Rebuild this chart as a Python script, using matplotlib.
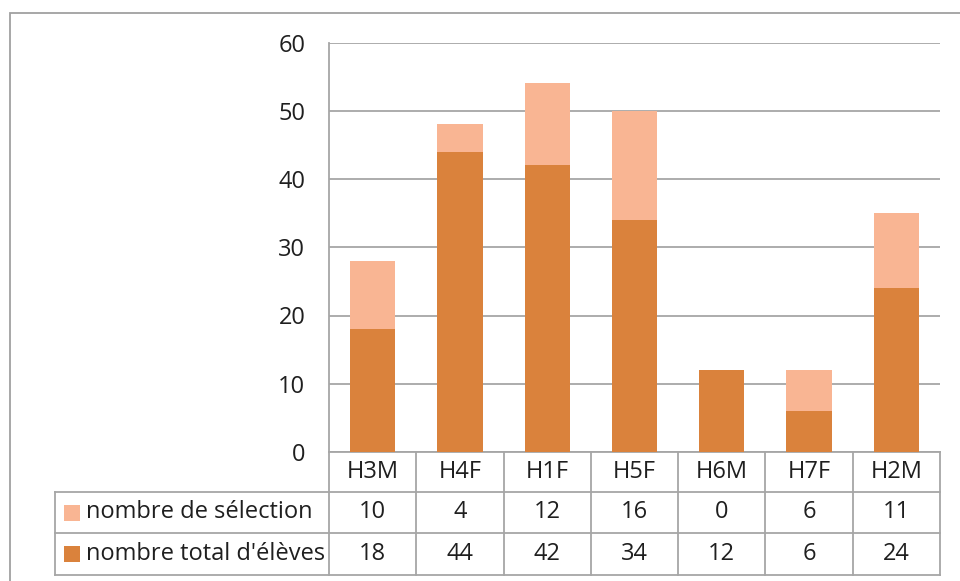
import matplotlib

matplotlib.use("Agg")
import matplotlib.pyplot as plt
from matplotlib.patches import Rectangle
from matplotlib.transforms import blended_transform_factory

categories = ["H3M", "H4F", "H1F", "H5F", "H6M", "H7F", "H2M"]
selection = [10, 4, 12, 16, 0, 6, 11]
total = [18, 44, 42, 34, 12, 6, 24]
series_names = ["nombre de sélection", "nombre total d'élèves"]

C_TOTAL = "#DA823C"
C_SEL = "#F9B593"
GRID = "#A6A6A6"
TXT = "#1F1F1F"
FS = 17

plt.rcParams["font.family"] = ["Open Sans", "DejaVu Sans"]

W, H = 960, 581
fig = plt.figure(figsize=(W / 100, H / 100), dpi=100)

# outer chart frame (cut off at right / bottom like the reference)
fig.patches.append(Rectangle((9.5 / W, -0.05), 1.2, 1 - 12.7 / H + 0.05,
                             transform=fig.transFigure, fill=False,
                             edgecolor="#A0A0A0", linewidth=1.3))

left, right, top, bottom = 329, 940, 42.5, 452
ax = fig.add_axes([left / W, 1 - bottom / H, (right - left) / W, (bottom - top) / H])

x = range(len(categories))
ax.bar(x, total, width=0.52, color=C_TOTAL, zorder=3)
ax.bar(x, selection, width=0.52, bottom=total, color=C_SEL, zorder=3)

ax.set_xlim(-0.5, len(categories) - 0.5)
ax.set_ylim(0, 60)
ax.set_yticks(range(0, 61, 10))
ax.yaxis.grid(True, color=GRID, linewidth=1.3, zorder=0)
ax.tick_params(axis="y", length=0, pad=17, labelsize=FS, labelcolor=TXT)
ax.set_xticks([])
for s in ["top", "right", "bottom"]:
    ax.spines[s].set_visible(False)
ax.spines["left"].set_color(GRID)
ax.spines["left"].set_linewidth(1.3)

# data table below the plot
tr = blended_transform_factory(ax.transData, fig.transFigure)
ftr = fig.transFigure
fy = lambda py: 1 - py / H
fx = lambda px: px / W
rows = [452, 492, 533, 575]
n = len(categories)
xe = [i - 0.5 for i in range(n + 1)]
lw = 1.3
line_kw = dict(color=GRID, linewidth=lw, clip_on=False)

# horizontal lines
ax.plot([-0.5, n - 0.5], [fy(rows[0])] * 2, transform=tr, **line_kw)
for r in rows[1:]:
    fig.add_artist(plt.Line2D([fx(55), fx(right)], [fy(r)] * 2, transform=ftr, **line_kw))
# vertical lines
for e in xe:
    ax.plot([e, e], [fy(rows[0]), fy(rows[-1])], transform=tr, **line_kw)
fig.add_artist(plt.Line2D([fx(55), fx(55)], [fy(rows[1]), fy(rows[-1])], transform=ftr, **line_kw))

for i, c in enumerate(categories):
    ax.text(i, fy((rows[0] + rows[1]) / 2), c, transform=tr, ha="center", va="center",
            fontsize=FS, color=TXT)
    ax.text(i, fy((rows[1] + rows[2]) / 2), str(selection[i]), transform=tr, ha="center",
            va="center", fontsize=FS, color=TXT)
    ax.text(i, fy((rows[2] + rows[3]) / 2), str(total[i]), transform=tr, ha="center",
            va="center", fontsize=FS, color=TXT)

for k, (name, col) in enumerate(zip(series_names, [C_SEL, C_TOTAL])):
    yc = (rows[k + 1] + rows[k + 2]) / 2
    fig.patches.append(Rectangle((fx(64), fy(yc + 8)), 16 / W, 16 / H, transform=ftr,
                                 facecolor=col, edgecolor="none"))
    fig.text(fx(86), fy(yc), name, ha="left", va="center", fontsize=FS, color=TXT)

fig.savefig("out.png", dpi=100)
